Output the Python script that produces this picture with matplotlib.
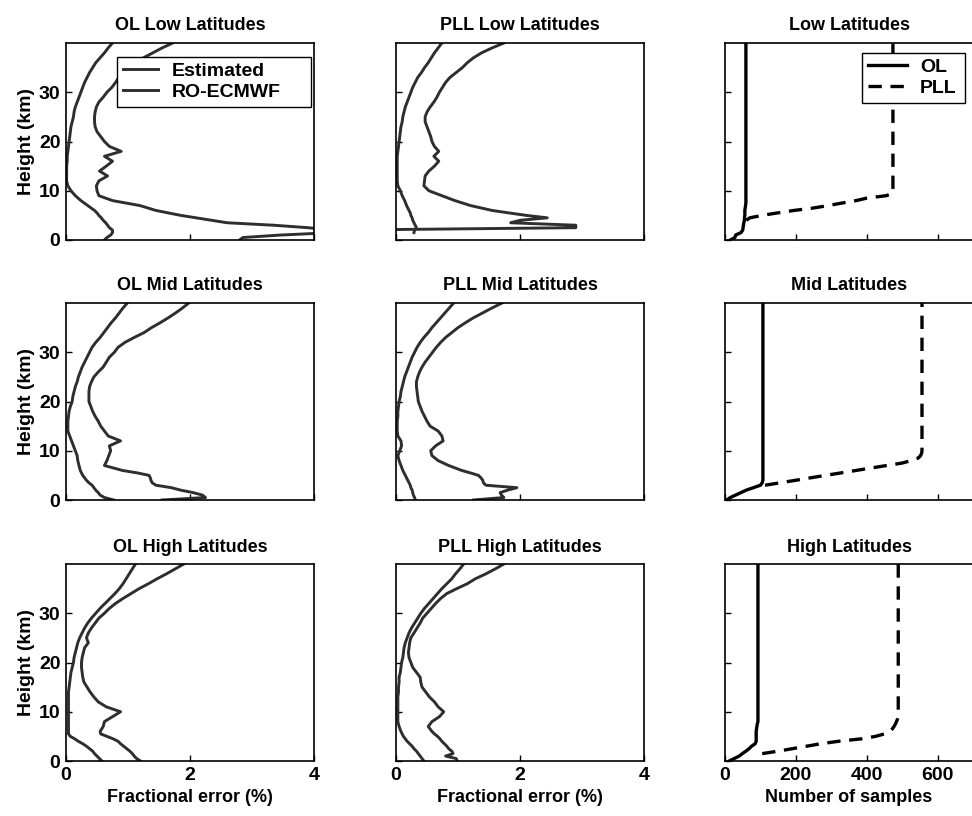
import numpy as np
import matplotlib
matplotlib.use("Agg")
from matplotlib import pyplot as plt

nan = np.nan

# height grid (km) for the fractional error profiles
h_err = [0, 0.5, 1, 1.5, 2, 2.5, 3, 3.5, 4, 4.5, 5, 5.5, 6,
         7, 8, 9, 10, 11, 12, 13, 14, 15, 16, 17, 18, 19, 20,
         21, 22, 23, 24, 25, 26, 27, 28, 29, 30, 31, 32, 33, 34, 35, 36, 37, 38, 39, 40]

# fractional error (%), estimated and RO-ECMWF
ol_low_est = [0.62, 0.66, 0.72, 0.75, 0.75, 0.70, 0.67, 0.64, 0.60, 0.57, 0.53, 0.50, 0.46,
              0.35, 0.24, 0.15, 0.08, 0.03, 0.01, 0.01, 0.01, 0.01, 0.02, 0.02, 0.03, 0.04, 0.05,
              0.06, 0.07, 0.08, 0.10, 0.12, 0.13, 0.15, 0.18, 0.21, 0.24, 0.27, 0.30, 0.34, 0.38,
              0.43, 0.48, 0.55, 0.62, 0.68, 0.75]
ol_low_ro = [2.80, 2.85, 3.45, 4.30, 4.30, 3.90, 3.35, 2.60, 2.35, 2.10, 1.85, 1.65, 1.45,
             1.19, 0.75, 0.53, 0.50, 0.49, 0.53, 0.67, 0.54, 0.65, 0.75, 0.62, 0.89, 0.70, 0.62,
             0.56, 0.50, 0.47, 0.46, 0.46, 0.47, 0.49, 0.53, 0.60, 0.66, 0.74, 0.80, 0.85, 0.90,
             0.98, 1.10, 1.25, 1.40, 1.55, 1.72]
pll_low_est = [nan, nan, nan, 0.29, 0.30, 0.33, 0.31, 0.29, 0.27, 0.26, 0.24, 0.23, 0.21,
               0.17, 0.14, 0.10, 0.07, 0.03, 0.02, 0.02, 0.02, 0.02, 0.02, 0.02, 0.03, 0.04, 0.05,
               0.06, 0.07, 0.08, 0.10, 0.11, 0.13, 0.15, 0.18, 0.21, 0.24, 0.27, 0.31, 0.35, 0.41,
               0.46, 0.52, 0.57, 0.62, 0.68, 0.74]
pll_low_ro = [nan, nan, nan, nan, -1.0, 2.90, 2.90, 1.85, 2.00, 2.44, 2.10, 1.82, 1.55,
              1.20, 0.95, 0.74, 0.53, 0.45, 0.46, 0.47, 0.53, 0.62, 0.69, 0.61, 0.69, 0.62, 0.58,
              0.56, 0.53, 0.50, 0.47, 0.47, 0.50, 0.55, 0.61, 0.66, 0.70, 0.75, 0.80, 0.87, 0.97,
              1.07, 1.15, 1.25, 1.38, 1.55, 1.74]
ol_mid_est = [0.77, 0.62, 0.55, 0.52, 0.48, 0.45, 0.42, 0.37, 0.33, 0.30, 0.27, 0.25, 0.23,
              0.21, 0.19, 0.18, 0.15, 0.12, 0.09, 0.06, 0.03, 0.03, 0.03, 0.04, 0.05, 0.07, 0.10,
              0.11, 0.13, 0.15, 0.18, 0.20, 0.23, 0.26, 0.30, 0.34, 0.38, 0.42, 0.48, 0.55, 0.61,
              0.67, 0.73, 0.80, 0.86, 0.92, 0.99]
ol_mid_ro = [1.55, 2.25, 2.20, 2.05, 1.85, 1.70, 1.45, 1.39, 1.37, 1.36, 1.34, 1.15, 0.91,
             0.62, 0.66, 0.69, 0.72, 0.70, 0.88, 0.68, 0.62, 0.56, 0.52, 0.47, 0.43, 0.40, 0.37,
             0.37, 0.37, 0.38, 0.41, 0.45, 0.52, 0.60, 0.65, 0.70, 0.78, 0.84, 0.95, 1.10, 1.26,
             1.38, 1.52, 1.65, 1.77, 1.88, 1.98]
pll_mid_est = [0.31, 0.30, 0.28, 0.27, 0.26, 0.24, 0.23, 0.21, 0.19, 0.17, 0.15, 0.13, 0.11,
               0.08, 0.05, 0.03, 0.06, 0.09, 0.08, 0.03, 0.02, 0.02, 0.02, 0.03, 0.03, 0.04, 0.05,
               0.07, 0.08, 0.10, 0.12, 0.14, 0.17, 0.20, 0.23, 0.26, 0.30, 0.34, 0.39, 0.45, 0.52,
               0.58, 0.65, 0.72, 0.79, 0.86, 0.93]
pll_mid_ro = [1.25, 1.74, 1.70, 1.68, 1.80, 1.95, 1.45, 1.41, 1.40, 1.37, 1.33, 1.20, 1.06,
              0.85, 0.68, 0.58, 0.56, 0.64, 0.76, 0.74, 0.68, 0.55, 0.50, 0.46, 0.42, 0.39, 0.36,
              0.35, 0.34, 0.33, 0.33, 0.35, 0.38, 0.42, 0.47, 0.53, 0.59, 0.65, 0.72, 0.80, 0.90,
              1.00, 1.12, 1.25, 1.40, 1.55, 1.71]
ol_high_est = [0.58, 0.54, 0.50, 0.46, 0.43, 0.38, 0.33, 0.27, 0.20, 0.14, 0.07, 0.04, 0.04,
               0.04, 0.04, 0.04, 0.04, 0.04, 0.04, 0.04, 0.04, 0.05, 0.06, 0.07, 0.08, 0.10, 0.12,
               0.13, 0.15, 0.17, 0.19, 0.22, 0.26, 0.30, 0.35, 0.41, 0.48, 0.55, 0.63, 0.71, 0.79,
               0.86, 0.92, 0.97, 1.02, 1.07, 1.12]
ol_high_ro = [1.20, 1.14, 1.10, 1.07, 1.03, 0.98, 0.93, 0.88, 0.84, 0.76, 0.66, 0.56, 0.55,
              0.60, 0.62, 0.75, 0.88, 0.65, 0.52, 0.45, 0.39, 0.34, 0.29, 0.27, 0.26, 0.25, 0.25,
              0.26, 0.28, 0.30, 0.36, 0.33, 0.36, 0.41, 0.47, 0.53, 0.62, 0.70, 0.80, 0.92, 1.05,
              1.18, 1.33, 1.47, 1.62, 1.76, 1.90]
pll_high_est = [0.45, 0.42, 0.39, 0.36, 0.33, 0.29, 0.26, 0.22, 0.18, 0.15, 0.12, 0.10, 0.08,
                0.05, 0.03, 0.03, 0.03, 0.03, 0.03, 0.03, 0.04, 0.04, 0.05, 0.05, 0.07, 0.08, 0.09,
                0.11, 0.12, 0.13, 0.15, 0.18, 0.21, 0.25, 0.30, 0.35, 0.40, 0.46, 0.53, 0.60, 0.67,
                0.74, 0.82, 0.90, 0.96, 1.03, 1.09]
pll_high_ro = [0.99, 0.97, 0.80, 0.92, 0.90, 0.85, 0.82, 0.78, 0.74, 0.71, 0.67, 0.62, 0.58,
               0.52, 0.58, 0.70, 0.77, 0.68, 0.62, 0.54, 0.48, 0.42, 0.40, 0.39, 0.33, 0.27, 0.24,
               0.21, 0.20, 0.21, 0.22, 0.24, 0.29, 0.34, 0.39, 0.43, 0.50, 0.57, 0.64, 0.72, 0.82,
               0.98, 1.15, 1.28, 1.45, 1.60, 1.74]

# height grid (km) for the sample counts
h_num = [0, 0.5, 1, 1.5, 2, 2.5, 3, 3.5, 4, 4.5, 5, 5.5, 6, 6.5, 7, 7.5, 8, 8.5, 9, 9.5, 10, 40]

n_low_ol = [15, 28, 30, 45, 50, 51, 52, 53, 55, 55, 56, 56, 56, 57, 58, 59, 59, 59, 59, 59, 59, 59]
n_low_pll = [nan, nan, nan, nan, nan, nan, nan, nan, 60, 70, 105, 148, 195, 250, 292, 330, 370,
             400, 455, 474, 474, 474]
n_mid_ol = [5, 15, 30, 45, 60, 80, 100, 105, 107, 107, 107, 107, 107, 107, 107, 107, 107, 107,
            107, 107, 107, 107]
n_mid_pll = [nan, nan, nan, nan, nan, nan, 113, 156, 199, 241, 284, 327, 370, 413, 456, 500, 525,
             545, 552, 555, 556, 556]
n_high_ol = [12, 26, 40, 49, 59, 68, 75, 85, 88, 88, 88, 88, 88, 89, 90, 91, 93, 93, 93, 93, 93, 93]
n_high_pll = [nan, nan, nan, 105, 150, 190, 230, 270, 320, 385, 425, 450, 464, 472, 477, 481, 484,
              487, 489, 489, 489, 489]

rows = ["Low", "Mid", "High"]
err_data = [
    [(ol_low_est, ol_low_ro), (pll_low_est, pll_low_ro)],
    [(ol_mid_est, ol_mid_ro), (pll_mid_est, pll_mid_ro)],
    [(ol_high_est, ol_high_ro), (pll_high_est, pll_high_ro)],
]
num_data = [(n_low_ol, n_low_pll), (n_mid_ol, n_mid_pll), (n_high_ol, n_high_pll)]

plt.rcParams['font.family'] = ['Liberation Sans', 'DejaVu Sans']
plt.rcParams['font.weight'] = 'bold'
plt.rcParams['axes.titleweight'] = 'bold'
plt.rcParams['axes.labelweight'] = 'bold'
plt.rcParams['axes.linewidth'] = 1.2
plt.rcParams['xtick.direction'] = 'in'
plt.rcParams['ytick.direction'] = 'in'

fig = plt.figure(figsize=(9.72, 8.16), dpi=100)

lefts = [66 / 972, 396 / 972, 725 / 972]
bottoms = [1 - 240 / 816, 1 - 500 / 816, 1 - 761 / 816]
w = 248 / 972
h = 197 / 816
line_col = '#2e2e2e'

# legend boxes stretched across a fixed span, extra room on the right
leg_kw = dict(loc='upper left', mode='expand', fontsize=14, frameon=True, fancybox=False,
              edgecolor='black', framealpha=1, borderaxespad=0, labelspacing=0.15,
              handletextpad=0.7, borderpad=0.3)

for r in range(3):
    for c in range(3):
        ax = fig.add_axes([lefts[c], bottoms[r], w, h])
        ax.set_ylim(0, 40)
        ax.set_yticks([0, 10, 20, 30])
        ax.tick_params(length=4, width=1, labelsize=14, pad=4)
        if c < 2:
            est, ro = err_data[r][c]
            ax.plot(est, h_err, color=line_col, lw=2.1, label='Estimated')
            ax.plot(ro, h_err, color=line_col, lw=2.1, label='RO-ECMWF')
            ax.set_xlim(0, 4)
            ax.set_xticks([0, 2, 4])
            prefix = 'OL ' if c == 0 else 'PLL '
            ax.set_title(prefix + rows[r] + ' Latitudes', fontsize=13, pad=9)
            if r == 0 and c == 0:
                ax.legend(bbox_to_anchor=(0.206, 0.0, 0.78, 0.93), handlelength=1.8, **leg_kw)
            if r == 2:
                ax.set_xlabel('Fractional error (%)', fontsize=13, labelpad=4)
        else:
            n_ol, n_pll = num_data[r]
            ax.plot(n_ol, h_num, color='black', lw=2.4, label='OL')
            ax.plot(n_pll, h_num, color='black', lw=2.4, dashes=(4, 2.6), label='PLL')
            ax.set_xlim(0, 700)
            ax.set_xticks([0, 200, 400, 600])
            ax.set_title(rows[r] + ' Latitudes', fontsize=13, pad=9)
            if r == 0:
                ax.legend(bbox_to_anchor=(0.552, 0.0, 0.416, 0.95), handlelength=2.0, **leg_kw)
            if r == 2:
                ax.set_xlabel('Number of samples', fontsize=13, labelpad=4)
        if c == 0:
            ax.set_ylabel('Height (km)', fontsize=14, labelpad=3)
        else:
            ax.set_yticklabels([])
        if r < 2:
            ax.set_xticklabels([])

plt.savefig("out.png", dpi=100)
plt.close()
